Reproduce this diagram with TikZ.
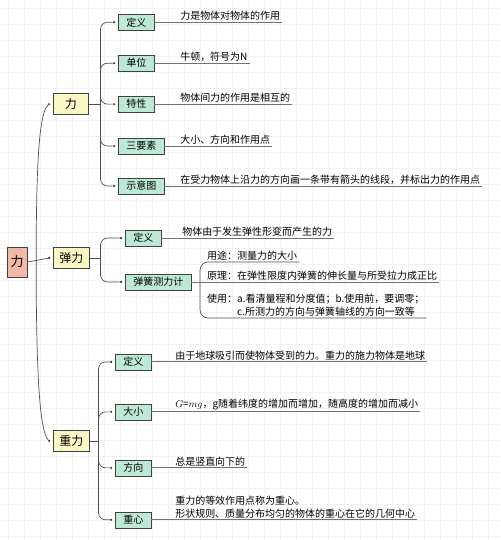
\documentclass[tikz,border=0pt]{standalone}
\usepackage{fontspec}
\setmainfont{Noto Sans CJK SC}
\usetikzlibrary{positioning}
\definecolor{rootpink}{HTML}{F2B8A6}
\definecolor{topicyellow}{HTML}{FAF6C4}
\definecolor{subteal}{HTML}{BEE8D6}
\definecolor{linegray}{HTML}{505050}
\tikzset{
  rootbox/.style={rectangle, draw=black!75, fill=rootpink, font=\fontsize{13}{15}\selectfont, minimum width=20pt, minimum height=30pt, inner sep=0pt},
  topic/.style={rectangle, draw=black!75, fill=topicyellow, font=\fontsize{12}{14}\selectfont, minimum width=35pt, minimum height=21pt, inner xsep=6pt, anchor=west},
  sub/.style={rectangle, draw=black!75, fill=subteal, font=\fontsize{10}{12}\selectfont, minimum height=16pt, inner xsep=8pt, inner ysep=1pt, anchor=west},
  leaf/.style={font=\fontsize{10}{13}\selectfont, inner xsep=0pt, inner ysep=1.5pt, align=left, anchor=south west},
  branch/.style={draw=linegray, line width=0.7pt, rounded corners=7pt},
  uline/.style={draw=black!55, line width=0.9pt},
  dotmark/.style={circle, fill=black!80, inner sep=0pt, minimum size=2.4pt}
}
\begin{document}
\begin{tikzpicture}[x=1pt, y=-1pt]
% grid paper
\fill[white] (0,0) rectangle (500,540);
\foreach \g in {8,24,...,500} {\draw[black!5, line width=0.4pt] (\g,0) -- (\g,540);}
\foreach \g in {8,24,...,540} {\draw[black!5, line width=0.4pt] (0,\g) -- (500,\g);}
\useasboundingbox (0,0) rectangle (500,540);

\node[rootbox] (root) at (17,262) {力};
\node[topic] (li) at (53,104) {力};
\node[topic] (tanli) at (53,258) {弹力};
\node[topic] (zhongli) at (53,441) {重力};
\foreach \n in {li,tanli,zhongli} {\node[dotmark] (\n-dot) at ([xshift=-4pt]\n.west) {};}
\coordinate (rj) at (36,262);
\draw[branch] (root.east) -- (tanli-dot);
\draw[branch] (rj) .. controls (36,150) and (40,112) .. (li-dot);
\draw[branch] (rj) .. controls (36,380) and (40,432) .. (zhongli-dot);

% text columns
\coordinate (lcol) at (180,0);
\coordinate (tcol) at (182,0);
\coordinate (gcol) at (175,0);

% 力
\node[sub] (ldef) at (118,22) {定义};
\node[sub] (lunit) at (118,63) {单位};
\node[sub] (lprop) at (118,104) {特性};
\node[sub] (lthree) at (118,146) {三要素};
\node[sub] (ldiag) at (118,186) {示意图};
\draw[branch] (li.east) -- ++(12,0) coordinate (lj);
\foreach \n in {ldef,lunit,lprop,lthree,ldiag} {
  \node[dotmark] (\n-dot) at ([xshift=-4pt]\n.west) {};
  \draw[branch] (lj) |- (\n-dot);
}
\foreach \n/\t in {ldef/{力是物体对物体的作用}, lunit/{牛顿，符号为N}, lprop/{物体间力的作用是相互的}, lthree/{大小、方向和作用点}, ldiag/{在受力物体上沿力的方向画一条带有箭头的线段，并标出力的作用点}} {
  \node[leaf] (\n-t) at (lcol |- \n.east) {\t};
  \draw[uline] (\n.east) -- ([xshift=2pt]\n-t.south east);
}

% 弹力
\node[sub] (tdef) at (125,238) {定义};
\node[sub] (tmeter) at (125,282) {弹簧测力计};
\draw[branch] (tanli.east) -- ++(11,0) coordinate (tj);
\foreach \n in {tdef,tmeter} {
  \node[dotmark] (\n-dot) at ([xshift=-4pt]\n.west) {};
  \draw[branch] (tj) |- (\n-dot);
}
\node[leaf] (tdef-t) at (tcol |- tdef.east) {物体由于发生弹性形变而产生的力};
\draw[uline] (tdef.east) -- ([xshift=2pt]tdef-t.south east);
\node[leaf] (tuse) at (207,262) {用途：测量力的大小};
\node[leaf] (tprin) at (207,282) {原理：在弹性限度内弹簧的伸长量与所受拉力成正比};
\node[leaf] (tway) at (207,318) {使用：a.看清量程和分度值；b.使用前，要调零；\\\phantom{使用：}c.所测力的方向与弹簧轴线的方向一致等};
\draw[uline] (tmeter.east) -- ([xshift=2pt]tprin.south east);
\draw[branch, rounded corners=8pt] ([xshift=2pt]tuse.south east) -| ([xshift=-7pt]tway.south west) -- ([xshift=2pt]tway.south east);

% 重力
\node[sub] (gdef) at (115,362) {定义};
\node[sub] (gsize) at (115,412) {大小};
\node[sub] (gdir) at (115,468) {方向};
\node[sub] (gcen) at (115,520) {重心};
\draw[branch] (zhongli.east) -- ++(9,0) coordinate (gj);
\foreach \n in {gdef,gsize,gdir,gcen} {
  \node[dotmark] (\n-dot) at ([xshift=-4pt]\n.west) {};
  \draw[branch] (gj) |- (\n-dot);
}
\foreach \n/\t in {gdef/{由于地球吸引而使物体受到的力。重力的施力物体是地球}, gsize/{$G$=$mg$，g随着纬度的增加而增加，随高度的增加而减小}, gdir/{总是竖直向下的}, gcen/{重力的等效作用点称为重心。\\形状规则、质量分布均匀的物体的重心在它的几何中心}} {
  \node[leaf] (\n-t) at (gcol |- \n.east) {\t};
  \draw[uline] (\n.east) -- ([xshift=2pt]\n-t.south east);
}
\end{tikzpicture}
\end{document}
